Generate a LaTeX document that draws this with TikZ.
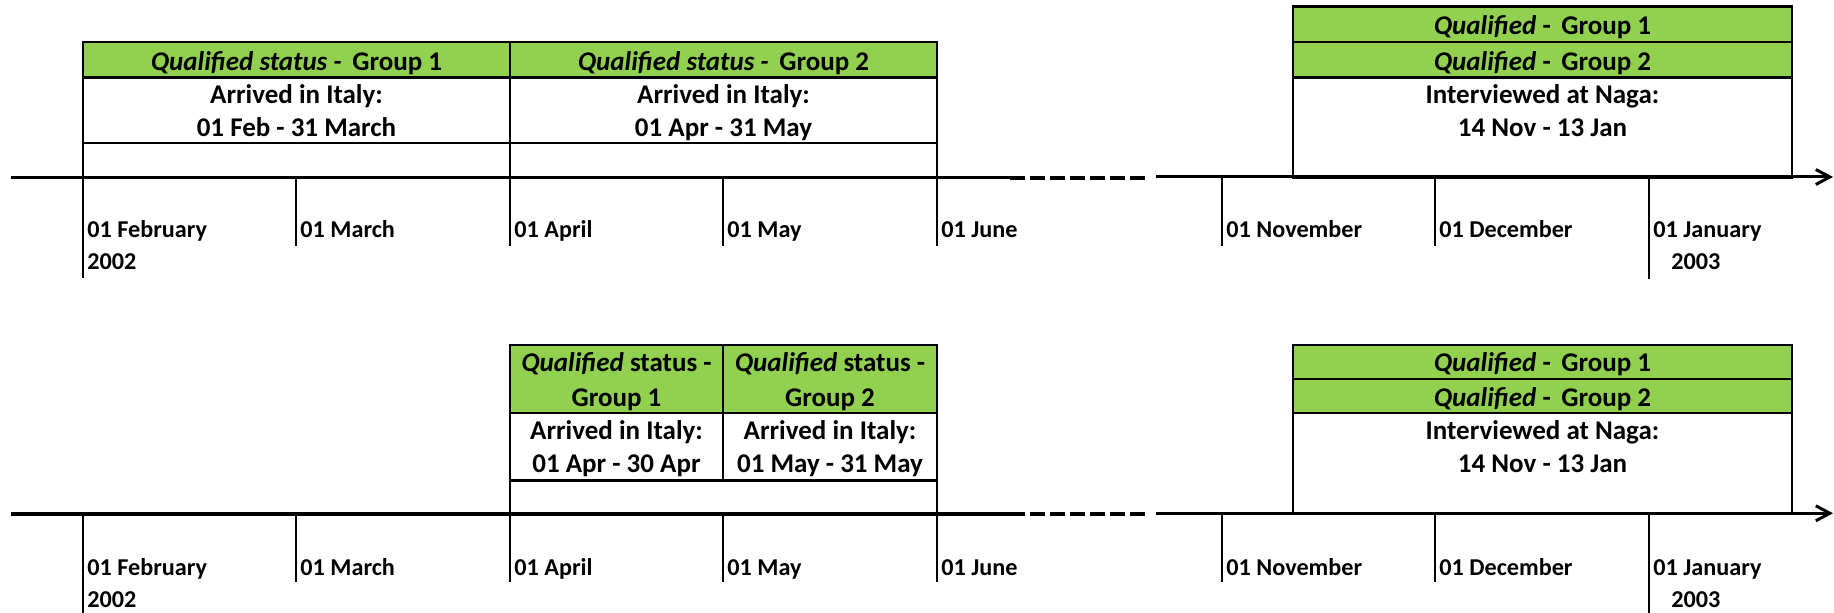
\documentclass[tikz,border=0pt]{standalone}
\usepackage{fontspec}
\setmainfont{Carlito}
\usetikzlibrary{arrows.meta}
\definecolor{qgreen}{HTML}{92D050}
\begin{document}
\begin{tikzpicture}[x=0.5pt,y=-0.5pt,
  boxline/.style={line width=1.2pt},
  axisline/.style={line width=1.8pt},
  axisdash/.style={line width=2.1pt,dash pattern=on 7.5pt off 2.5pt},
  axisthin/.style={line width=1.5pt},
  tickline/.style={line width=1pt},
  boxtxt/.style={anchor=base,inner sep=0pt,font=\bfseries\fontsize{13.5}{16}\selectfont},
  lbl/.style={anchor=base west,inner sep=0pt,font=\bfseries\fontsize{12.1}{14}\selectfont}]
\useasboundingbox (0,0) rectangle (1834,613);

% ================= TOP PANEL =================
% left box
\fill[qgreen] (83,42.3) rectangle (937,77.7);
\draw[boxline] (83,42.3) rectangle (937,177.7);
\draw[boxline] (83,77.7) -- (937,77.7) (83,143.3) -- (937,143.3) (510,42.3) -- (510,177.7);
\node[boxtxt] (tg1) at (296.5,70.7) {\textit{Qualified status -}\,\ Group 1};
\node[boxtxt] (tg2) at (723.5,70.7) {\textit{Qualified status -}\,\ Group 2};
\node[boxtxt] (ta1) at (296.5,104) {Arrived in Italy:};
\node[boxtxt] (td1) at (296.5,136.7) {01 Feb - 31 March};
\node[boxtxt] (ta2) at (723.5,104) {Arrived in Italy:};
\node[boxtxt] (td2) at (723.5,136.7) {01 Apr - 31 May};

% right box
\fill[qgreen] (1293,6.7) rectangle (1792,77.7);
\draw[boxline] (1293,6.7) rectangle (1792,177.7);
\draw[boxline] (1293,42.3) -- (1792,42.3) (1293,77.7) -- (1792,77.7);
\node[boxtxt] (tq1) at (1542.5,35) {\textit{Qualified} -\,\ Group 1};
\node[boxtxt] (tq2) at (1542.5,70.7) {\textit{Qualified} -\,\ Group 2};
\node[boxtxt] (ti) at (1542.5,104) {Interviewed at Naga:};
\node[boxtxt] (tn) at (1542.5,136.7) {14 Nov - 13 Jan};

% axis
\coordinate (ta0) at (11,177.7);
\coordinate (ta1x) at (1010,177.7);
\coordinate (ta2x) at (1147,177.7);
\coordinate (ta3) at (1156,177);
\coordinate (ta4) at (1833,177);
\draw[axisline] (ta0) -- (ta1x);
\draw[axisdash] (ta1x) -- (ta2x);
\draw[axisthin,-{Straight Barb[length=7pt,width=7.5pt,line width=1.5pt]}] (ta3) -- (ta4);

% ticks
\draw[tickline] (83,177.7) -- (83,278);
\foreach \x in {296,510,723,937,1221.6,1435.4} \draw[tickline] (\x,177.7) -- (\x,245.7);
\draw[tickline] (1649,177.7) -- (1649,279);

% labels
\node[lbl] (tfeb) at (87,237.3) {01 February};
\node[lbl] (ty02) at (87,270) {2002};
\node[lbl] (tmar) at (300,237.3) {01 March};
\node[lbl] (tapr) at (514,237.3) {01 April};
\node[lbl] (tmay) at (727,237.3) {01 May};
\node[lbl] (tjun) at (941,237.3) {01 June};
\node[lbl] (tnov) at (1226,237.3) {01 November};
\node[lbl] (tdec) at (1439,237.3) {01 December};
\node[lbl] (tjan) at (1653,237.3) {01 January};
\node[lbl] (ty03) at (1671,270) {2003};

% ================= BOTTOM PANEL =================
% left box
\fill[qgreen] (510,345) rectangle (937,413.3);
\draw[boxline] (510,345) rectangle (937,514.3);
\draw[boxline] (510,413.3) -- (937,413.3) (510,480.7) -- (937,480.7) (723,345) -- (723,480.7);
\node[boxtxt] (bg1a) at (616.5,371.7) {\textit{Qualified} status -};
\node[boxtxt] (bg1b) at (616.5,406.7) {Group 1};
\node[boxtxt] (bg2a) at (830,371.7) {\textit{Qualified} status -};
\node[boxtxt] (bg2b) at (830,406.7) {Group 2};
\node[boxtxt] (ba1) at (616.5,439.3) {Arrived in Italy:};
\node[boxtxt] (bd1) at (616.5,472.7) {01 Apr - 30 Apr};
\node[boxtxt] (ba2) at (830,439.3) {Arrived in Italy:};
\node[boxtxt] (bd2) at (830,472.7) {01 May - 31 May};

% right box
\fill[qgreen] (1293,345) rectangle (1792,413.3);
\draw[boxline] (1293,345) rectangle (1792,513.3);
\draw[boxline] (1293,379) -- (1792,379) (1293,413.3) -- (1792,413.3);
\node[boxtxt] (bq1) at (1542.5,371.7) {\textit{Qualified} -\,\ Group 1};
\node[boxtxt] (bq2) at (1542.5,406.7) {\textit{Qualified} -\,\ Group 2};
\node[boxtxt] (bi) at (1542.5,439.3) {Interviewed at Naga:};
\node[boxtxt] (bn) at (1542.5,472.7) {14 Nov - 13 Jan};

% axis
\coordinate (ba0) at (11,514.3);
\coordinate (ba1x) at (1010,514.3);
\coordinate (ba2x) at (1147,514.3);
\coordinate (ba3) at (1156,513.3);
\coordinate (ba4) at (1833,513.3);
\draw[axisline] (ba0) -- (ba1x);
\draw[axisdash] (ba1x) -- (ba2x);
\draw[axisthin,-{Straight Barb[length=7pt,width=7.5pt,line width=1.5pt]}] (ba3) -- (ba4);

% ticks
\draw[tickline] (83,514.3) -- (83,613);
\foreach \x in {296,510,723,937,1221.6,1435.4} \draw[tickline] (\x,514.3) -- (\x,582);
\draw[tickline] (1649,514.3) -- (1649,613);

% labels
\node[lbl] (bfeb) at (87,575) {01 February};
\node[lbl] (by02) at (87,607.3) {2002};
\node[lbl] (bmar) at (300,575) {01 March};
\node[lbl] (bapr) at (514,575) {01 April};
\node[lbl] (bmay) at (727,575) {01 May};
\node[lbl] (bjun) at (941,575) {01 June};
\node[lbl] (bnov) at (1226,575) {01 November};
\node[lbl] (bdec) at (1439,575) {01 December};
\node[lbl] (bjan) at (1653,575) {01 January};
\node[lbl] (by03) at (1671,607.3) {2003};
\end{tikzpicture}
\end{document}
